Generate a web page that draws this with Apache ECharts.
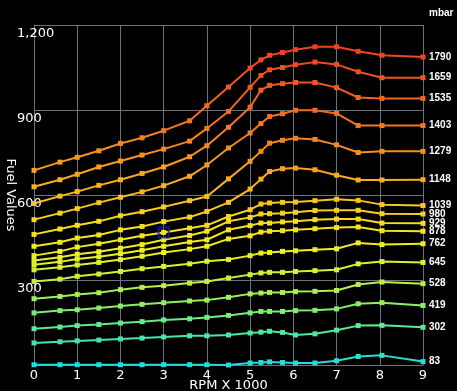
<!DOCTYPE html>
<html>
<head>
<meta charset="utf-8">
<script src="https://cdn.jsdelivr.net/npm/echarts@6/dist/echarts.min.js"></script>
<style>html,body{margin:0;padding:0;background:#000;}#c{width:457px;height:391px;}</style>
</head>
<body>
<div id="c"></div>
<script>
const rpm = [0, 0.6, 1, 1.5, 2, 2.5, 3, 3.6, 4, 4.5, 5, 5.25, 5.45, 5.75, 6.05, 6.5, 7, 7.5, 8.05, 9];
const seriesNames = ['1790','1659','1535','1403','1279','1148','1039','980','929','878','762','645','528','419','302','83'];
const xTicks = [0,1,2,3,4,5,6,7,8,9];
const yTicks = [0,300,600,900,1200];

const v1790 = [687,716,733,756,782,802,827,862,915,981,1048,1077,1093,1103,1113,1123,1123,1107,1093,1087];
const v1659 = [629,654,673,699,720,741,762,790,835,895,980,1022,1042,1050,1060,1069,1061,1035,1014,1014];
const v1535 = [570,596,612,634,654,676,699,735,774,839,910,970,987,993,997,997,979,944,941,941];
const v1403 = [513,536,552,573,592,611,633,666,706,766,819,852,877,887,899,899,888,845,845,845];
const v1279 = [461,480,493,507,527,541,558,580,595,657,719,754,783,793,800,796,777,750,754,754];
const v1148 = [419,433,448,459,477,489,506,522,542,574,621,656,683,693,695,689,670,653,653,654];
const v1039 = [386,401,416,428,442,456,468,483,493,524,548,568,572,574,575,580,585,581,566,563];
const v980  = [369,380,391,400,412,425,442,457,472,507,521,533,534,536,539,545,546,546,534,533];
const v929  = [354,364,374,382,393,405,419,434,442,477,492,501,501,505,507,513,515,515,501,500];
const v878  = [336,345,353,362,372,384,397,409,419,445,456,469,472,474,477,481,485,487,474,472];
const v762  = [295,303,313,321,330,340,348,357,366,372,386,395,397,401,403,407,410,431,425,428];
const v645  = [234,242,249,255,266,274,280,289,295,307,319,325,327,327,330,333,336,357,365,362];
const v528  = [184,192,195,201,208,214,220,226,229,239,251,254,256,256,259,260,263,284,293,287];
const v419  = [128,134,139,143,148,153,159,163,168,175,184,189,189,189,192,193,198,216,220,210];
const v302  = [78,82,85,88,92,95,99,103,103,106,113,116,119,115,106,110,123,139,140,133];
const v83   = [1,1,1,1,1,1,1,1,1,0,7,9,11,9,7,7,15,30,34,12];

const allValues = [v1790,v1659,v1535,v1403,v1279,v1148,v1039,v980,v929,v878,v762,v645,v528,v419,v302,v83];
const highlightSeries = 6; // 1039
const highlightIndex = 6;  // rpm 3

const chart = echarts.init(document.getElementById('c'), null, {renderer:'canvas'});
const gridColor = '#6b737d';

const lineSeries = allValues.map((vals, i) => ({
  type: 'line',
  name: seriesNames[i],
  data: rpm.map((x, j) => [x, vals[j]]),
  symbol: 'rect',
  symbolSize: 5,
  showSymbol: true,
  lineStyle: { width: 2 },
  endLabel: {
    show: true,
    formatter: '{a}',
    color: '#ffffff',
    fontFamily: 'Liberation Sans',
    fontWeight: 'bold',
    fontSize: 10,
    distance: 6
  },
  emphasis: { disabled: true },
  z: 3
}));

const hl = {
  type: 'scatter',
  data: [[rpm[highlightIndex], allValues[highlightSeries][highlightIndex]]],
  symbol: 'rect',
  symbolSize: 10,
  itemStyle: { color: 'rgba(0,0,0,0)', borderColor: '#1818c8', borderWidth: 2 },
  z: 5,
  silent: true
};

chart.setOption({
  backgroundColor: '#000000',
  animation: false,
  grid: { left: 34, top: 25, right: 34, bottom: 26, containLabel: false, outerBoundsMode: 'none' },
  visualMap: {
    show: false,
    type: 'continuous',
    seriesIndex: lineSeries.map((s, i) => i),
    dimension: 1,
    min: 0,
    max: 1200,
    inRange: {
      color: ['#22dcdc','#46e6aa','#84ee6c','#c4f040','#eef020','#f8dc20','#f8bc20','#f89e20','#f28220','#f06c20','#f05620','#f04420','#f03420']
    }
  },
  xAxis: {
    type: 'value',
    min: xTicks[0],
    max: xTicks[xTicks.length - 1],
    interval: 1,
    name: 'RPM X 1000',
    nameLocation: 'middle',
    nameGap: 14,
    nameMoveOverlap: false,
    nameTextStyle: { color: '#ffffff', fontFamily: 'DejaVu Sans', fontSize: 13 },
    axisLine: { show: true, lineStyle: { color: gridColor, width: 1 } },
    axisTick: { show: false },
    axisLabel: { color: '#ffffff', fontFamily: 'DejaVu Sans', fontSize: 13, margin: 4 },
    splitLine: { show: true, lineStyle: { color: gridColor, width: 1 } }
  },
  yAxis: {
    type: 'value',
    min: yTicks[0],
    max: yTicks[yTicks.length - 1],
    interval: 300,
    name: 'Fuel Values',
    nameLocation: 'middle',
    nameRotate: -90,
    nameGap: 17,
    nameMoveOverlap: false,
    nameTextStyle: { color: '#ffffff', fontFamily: 'DejaVu Sans', fontSize: 13 },
    axisLine: { show: true, lineStyle: { color: gridColor, width: 1 } },
    axisTick: { show: false },
    axisLabel: {
      color: '#ffffff', fontFamily: 'DejaVu Sans', fontSize: 13,
      align: 'left', verticalAlign: 'top', margin: 17,
      padding: [2, 0, 0, 0],
      showMinLabel: false,
      formatter: v => v === 0 ? '' : v.toLocaleString('en-US')
    },
    splitLine: { show: true, lineStyle: { color: gridColor, width: 1 } }
  },
  graphic: [{
    type: 'text', left: 429, top: 8,
    style: { text: 'mbar', fill: '#ffffff', font: 'bold 10px "Liberation Sans"' }
  }],
  series: lineSeries.concat([hl])
});
</script>
</body>
</html>
